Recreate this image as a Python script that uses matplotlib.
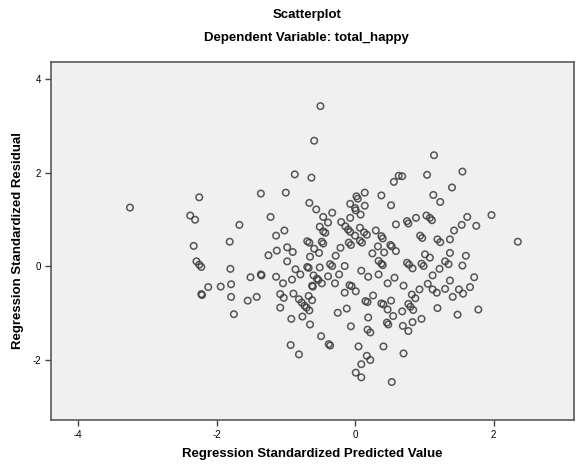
import matplotlib
matplotlib.use("Agg")
import matplotlib.pyplot as plt

# Regression Standardized Predicted Value
pred = [
    -2.25, -1.36, -2.38, -2.31, -1.22, -1.67, -1.14, -1.81, -2.33, -1.13,
    -1.25, -2.29, -2.25, -2.22, -1.80, -1.51, -1.36, -1.35, -2.12, -1.94,
    -1.79, -2.22, -2.21, -1.79, -1.55, -1.42, -1.75, -0.50, -0.59, -0.87,
    -0.63, 0.56, 0.63, -1.00, 0.14, 0.38, 0.02, 0.04, -0.66, -0.56,
    -0.07, 0.14, 0.52, 0.00, 0.01, -0.33, 0.08, -0.46, -0.07, -0.39,
    -0.20, 0.59, -0.14, -0.51, 0.07, -0.46, -0.43, -0.10, -0.07, -1.02,
    0.13, 0.17, 0.30, 0.00, 0.38, 0.40, -0.69, -0.66, -0.48, -0.46,
    0.07, 0.10, -0.09, -0.06, 0.51, 0.53, -0.98, -0.90, -0.21, 0.33,
    -0.59, -0.52, 0.25, 0.42, 0.59, -0.65, -0.28, -0.98, -0.69, -0.67,
    -0.51, -0.36, -0.33, -0.15, 0.34, 0.38, 0.40, 0.09, -0.86, -1.14,
    -0.79, -0.60, -0.55, -0.53, -0.48, -0.39, -0.23, 0.19, 0.34, 0.57,
    -1.04, -0.91, -0.62, -0.61, -0.29, 0.47, -0.08, -0.05, 0.01, -0.15,
    -1.08, -1.03, -0.89, -0.81, -0.77, -0.73, -0.70, -0.67, -0.62, -0.66,
    0.26, 0.15, 0.18, 0.38, 0.41, 0.52, 0.47, 0.55, -0.12, -0.25,
    -1.08, -0.76, -0.92, 0.19, -0.65, -0.06, 0.46, 0.48, 0.18, 0.22,
    -0.49, -0.38, -0.36, -0.93, 0.05, 0.41, -0.81, 0.17, 0.22, 0.09,
    0.01, 0.09, 0.53, 1.14, 1.55, 0.68, 1.04, 1.40, 1.13, 1.23,
    1.03, 1.08, 1.11, 0.88, 0.75, 0.77, 1.62, 1.97, 1.54, 1.75,
    1.43, 1.37, 0.94, 0.97, 1.19, 1.23, 2.35, 1.01, 1.08, 1.37,
    1.60, 0.75, 0.78, 0.83, 0.96, 0.99, 1.30, 1.35, 1.55, 1.22,
    1.12, 1.72, 0.70, 1.05, 1.37, 1.12, 1.18, 1.30, 1.50, 1.56,
    1.66, 0.93, 0.82, 0.87, 1.41, 0.77, 0.80, 0.84, 1.19, 0.68,
    1.78, 1.48, 0.96, 0.83, 0.69, 0.77, 0.70, -3.25,
]

# Regression Standardized Residual
resid = [
    1.48, 1.56, 1.09, 1.00, 1.06, 0.89, 0.66, 0.53, 0.44, 0.34,
    0.24, 0.11, 0.04, -0.01, -0.05, -0.23, -0.17, -0.19, -0.44, -0.43,
    -0.38, -0.59, -0.61, -0.65, -0.73, -0.65, -1.02, 3.43, 2.69, 1.97,
    1.90, 1.81, 1.94, 1.58, 1.58, 1.52, 1.50, 1.45, 1.36, 1.22,
    1.34, 1.30, 1.31, 1.25, 1.20, 1.15, 1.11, 1.06, 1.04, 0.94,
    0.95, 0.90, 0.86, 0.85, 0.83, 0.75, 0.72, 0.79, 0.74, 0.77,
    0.73, 0.68, 0.77, 0.66, 0.65, 0.60, 0.54, 0.51, 0.53, 0.49,
    0.55, 0.51, 0.51, 0.46, 0.46, 0.43, 0.41, 0.31, 0.40, 0.43,
    0.38, 0.29, 0.28, 0.30, 0.33, 0.21, 0.23, 0.11, -0.01, -0.03,
    -0.02, 0.05, 0.01, 0.01, 0.12, 0.06, 0.03, -0.09, -0.06, -0.22,
    -0.17, -0.19, -0.26, -0.29, -0.36, -0.21, -0.17, -0.22, -0.17, -0.24,
    -0.36, -0.28, -0.41, -0.43, -0.36, -0.36, -0.40, -0.42, -0.53, -0.56,
    -0.59, -0.67, -0.58, -0.70, -0.77, -0.84, -0.88, -0.63, -0.72, -0.94,
    -0.62, -0.74, -0.76, -0.79, -0.81, -0.73, -0.92, -1.06, -0.90, -0.99,
    -0.88, -1.07, -1.12, -1.09, -1.24, -1.28, -1.20, -1.24, -1.35, -1.41,
    -1.49, -1.66, -1.69, -1.68, -1.71, -1.71, -1.88, -1.91, -2.00, -2.09,
    -2.27, -2.37, -2.47, 2.38, 2.03, 1.93, 1.96, 1.69, 1.53, 1.38,
    1.09, 1.04, 0.99, 1.04, 0.97, 0.92, 1.06, 1.10, 0.89, 0.87,
    0.77, 0.58, 0.66, 0.61, 0.58, 0.52, 0.53, 0.26, 0.19, 0.29,
    0.23, 0.08, 0.04, -0.04, 0.06, 0.01, 0.11, 0.05, 0.02, -0.05,
    -0.19, -0.23, -0.41, -0.37, -0.30, -0.49, -0.56, -0.48, -0.49, -0.58,
    -0.44, -0.49, -0.60, -0.68, -0.65, -0.80, -0.86, -0.93, -0.89, -0.96,
    -0.92, -1.03, -1.12, -1.19, -1.27, -1.38, -1.86, 1.26,
]

x_ticks = [-4, -2, 0, 2]
y_ticks = [-2, 0, 2, 4]

plt.rcParams['font.family'] = ['Liberation Sans', 'DejaVu Sans']

fig = plt.figure(figsize=(5.81, 4.66), dpi=100)
ax = fig.add_axes([0.0878, 0.0990, 0.900, 0.7686])
ax.set_facecolor('#f0f0f0')

ax.scatter(pred, resid, s=22, facecolors='none', edgecolors='#3a3a3a',
           linewidths=1.1, alpha=0.85)

ax.set_xlim(-4.39, 3.16)
ax.set_ylim(-3.28, 4.38)
ax.set_xticks(x_ticks)
ax.set_yticks(y_ticks)
ax.set_xticklabels([str(v) for v in x_ticks])
ax.set_yticklabels([str(v) for v in y_ticks])
ax.tick_params(axis='both', direction='out', length=4, width=1,
               color='#444444', labelsize=7, pad=3)
for sp in ax.spines.values():
    sp.set_color('#5a5a5a')
    sp.set_linewidth(1.2)

ax.set_xlabel('Regression Standardized Predicted Value', fontsize=9.5,
              fontweight='bold', labelpad=6)
ax.set_ylabel('Regression Standardized Residual', fontsize=9.5,
              fontweight='bold', labelpad=6)

fig.text(0.528, 1 - 15 / 466, 'Scatterplot', ha='center', va='center',
         fontsize=9.5, fontweight='bold')
fig.text(0.528, 1 - 38 / 466, 'Dependent Variable: total_happy', ha='center',
         va='center', fontsize=9.5, fontweight='bold')

fig.savefig('out.png', dpi=100, facecolor='white')
plt.close(fig)
